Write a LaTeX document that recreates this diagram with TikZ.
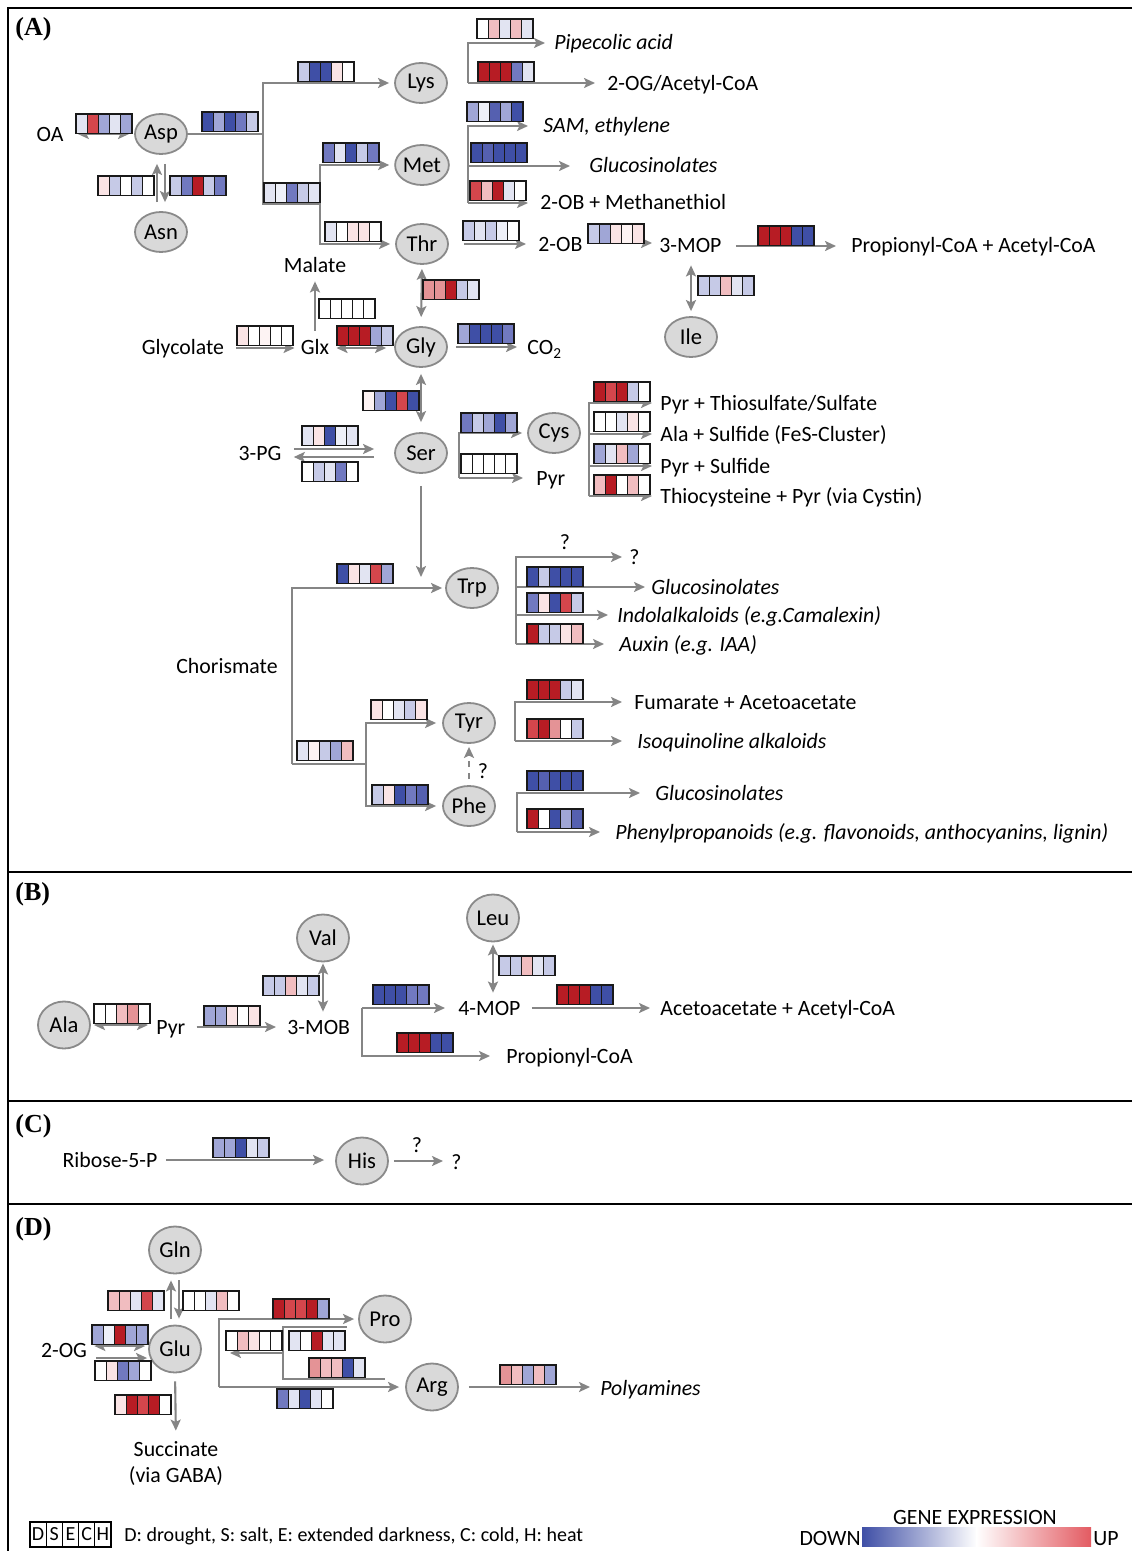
\documentclass[tikz,border=0pt]{standalone}
\usepackage{fontspec}
\setmainfont{Carlito}
\newfontfamily\tnrfont{Liberation Serif}
\usetikzlibrary{arrows.meta,shapes.geometric}
\definecolor{cb0}{HTML}{EEF0F8}
\definecolor{cb1}{HTML}{E2E4F2}
\definecolor{cb2}{HTML}{C6CAE7}
\definecolor{cb3}{HTML}{A0A6D6}
\definecolor{cb4}{HTML}{7179C0}
\definecolor{cb45}{HTML}{5560B0}
\definecolor{cb5}{HTML}{3F4FA6}
\definecolor{cr0}{HTML}{FDF3F3}
\definecolor{cr1}{HTML}{FAE4E5}
\definecolor{cr2}{HTML}{F1BDC0}
\definecolor{cr3}{HTML}{E49396}
\definecolor{cr4}{HTML}{D4464C}
\definecolor{cr5}{HTML}{B71C24}
\definecolor{cw}{HTML}{FFFFFF}
\definecolor{lgray}{HTML}{858585}
\definecolor{nfill}{HTML}{D9D9D9}
\definecolor{nline}{HTML}{8A8A8A}
\definecolor{gradred}{HTML}{E35B62}
\newcommand{\dfont}{\fontsize{10.9}{13}\selectfont}
\newcommand{\nfont}{\fontsize{11.3}{13}\selectfont}
\newcommand{\lfont}{\fontsize{10}{12}\selectfont}
\tikzset{
  conn/.style={draw=lgray, line width=1.05pt},
  arr/.style={conn, -{Stealth[length=5.5pt,width=5pt,inset=1.2pt]}},
  darr/.style={conn, {Stealth[length=5.5pt,width=5pt,inset=1.2pt]}-{Stealth[length=5.5pt,width=5pt,inset=1.2pt]}},
  aa/.style={ellipse, fill=nfill, draw=nline, line width=0.9pt, minimum width=26pt, minimum height=20pt, inner sep=0pt, font=\nfont},
  aac/.style={aa, minimum height=23.5pt},
  lbl/.style={inner sep=0pt, font=\dfont, text height=7.5pt, text depth=0.5pt},
  itl/.style={lbl, font=\dfont\itshape},
  hmb/.style={draw=black!90, line width=0.6pt},
  frame/.style={draw=black, line width=1pt},
  plabel/.style={anchor=west, inner sep=0pt, font={\tnrfont\bfseries\fontsize{13}{15}\selectfont}},
  lgbox/.style={draw=black, line width=0.6pt, minimum width=8.1pt, minimum height=12.5pt, inner sep=0pt, font=\lfont},
}
\newcommand{\hmap}[7]{%
  \begin{scope}[shift={(#1,#2)}]
    \fill[#3] (0,0) rectangle (11.2,19.5);
    \fill[#4] (11.2,0) rectangle (22.4,19.5);
    \fill[#5] (22.4,0) rectangle (33.6,19.5);
    \fill[#6] (33.6,0) rectangle (44.8,19.5);
    \fill[#7] (44.8,0) rectangle (56,19.5);
    \draw[hmb] (0,0) rectangle (56,19.5);
    \foreach \xx in {11.2,22.4,33.6,44.8} \draw[hmb] (\xx,0) -- (\xx,19.5);
  \end{scope}}
\begin{document}
\begin{tikzpicture}[x=0.5pt,y=-0.5pt]
\useasboundingbox (0,0) rectangle (1132,1551);
\fill[white] (0,0) rectangle (1132,1551);
% frames
\draw[frame] (1132,8) -- (8,8) -- (8,1551);
\draw[frame] (8,872) -- (1132,872);
\draw[frame] (8,1101) -- (1132,1101);
\draw[frame] (8,1204) -- (1132,1204);
\node[plabel] (pA) at (15,29) {(A)};
\node[plabel] (pB) at (15,894) {(B)};
\node[plabel] (pC) at (15,1126) {(C)};
\node[plabel] (pD) at (15,1229) {(D)};

% ===== Panel A nodes =====
\node[aa] (asp) at (161,134) {Asp};
\node[aa] (asn) at (161,232) {Asn};
\node[aa] (lys) at (421,83) {Lys};
\node[aa] (met) at (422,165) {Met};
\node[aa] (thr) at (422,244) {Thr};
\node[aa] (gly) at (421,347) {Gly};
\node[aa] (ser) at (421,453) {Ser};
\node[aa] (cys) at (554,433) {Cys};
\node[aa] (ile) at (691,337) {Ile};
\node[aa] (trp) at (472,588) {Trp};
\node[aa] (tyr) at (469,723) {Tyr};
\node[aa] (phe) at (469,806) {Phe};

\node[lbl] (oa) at (50,135) {OA};
\node[lbl] (malate) at (315,266) {Malate};
\node[lbl] (glycolate) at (183,348) {Glycolate};
\node[lbl] (glx) at (315,348) {Glx};
\node[lbl, anchor=west] (co2) at (527,348) {CO\textsubscript{2}};
\node[lbl] (pg) at (260,453) {3-PG};
\node[lbl, anchor=west] (pyra) at (536,478) {Pyr};
\node[itl, anchor=west] (pip) at (554,43) {Pipecolic acid};
\node[lbl, anchor=west] (og) at (607,84) {2-OG/Acetyl-CoA};
\node[itl, anchor=west] (sam) at (543,126) {SAM, ethylene};
\node[itl, anchor=west] (gls1) at (589,166) {Glucosinolates};
\node[lbl, anchor=west] (obm) at (540,203) {2-OB + Methanethiol};
\node[lbl, anchor=west] (ob) at (538,245) {2-OB};
\node[lbl, anchor=west] (mop) at (659,246) {3-MOP};
\node[lbl, anchor=west] (pa) at (851,246) {Propionyl-CoA + Acetyl-CoA};
\node[lbl, anchor=west] (cy1) at (660,403) {Pyr + Thiosulfate/Sulfate};
\node[lbl, anchor=west] (cy2) at (660,434) {Ala + Sulfide (FeS-Cluster)};
\node[lbl, anchor=west] (cy3) at (660,466) {Pyr + Sulfide};
\node[lbl, anchor=west] (cy4) at (660,496) {Thiocysteine + Pyr (via Cystin)};
\node[lbl] (chor) at (227,666) {Chorismate};
\node[lbl] (qa) at (565,542) {?};
\node[lbl, anchor=west] (qb) at (629,557) {?};
\node[itl, anchor=west] (gls2) at (651,587) {Glucosinolates};
\node[itl, anchor=west] (indol) at (617,615) {Indolalkaloids (e.g.Camalexin)};
\node[itl, anchor=west] (aux) at (619,644) {Auxin (e.g. IAA)};
\node[lbl, anchor=west] (fum) at (634,702) {Fumarate + Acetoacetate};
\node[itl, anchor=west] (isoq) at (637,741) {Isoquinoline alkaloids};
\node[itl, anchor=west] (gls3) at (655,793) {Glucosinolates};
\node[itl, anchor=west] (phen) at (615,832) {Phenylpropanoids (e.g. flavonoids, anthocyanins, lignin)};
\node[lbl] (qc) at (483,771) {?};

% ===== Panel A connectors =====
\draw[darr, shorten <=7pt, shorten >=2.5pt] ([yshift=0.5pt]oa.east) -- ([yshift=0.5pt]oa.east -| asp.west);
\coordinate (aspb) at (263,134);
\coordinate (mtb) at (320,204);
\draw[conn] (asp.east) -- (aspb) -- (263,204) -- (mtb);
\draw[arr, shorten >=2.5pt] (aspb) |- (lys);
\draw[arr, shorten >=2.5pt] (mtb) |- (met);
\draw[arr, shorten >=2.5pt] (mtb) |- (thr);
\draw[arr, shorten <=4.5pt, shorten >=4.5pt] ([xshift=-2pt]asn.north) -- ([xshift=-2pt]asp.south);
\draw[arr, shorten <=4.5pt, shorten >=4.5pt] ([xshift=2pt]asp.south) -- ([xshift=2pt]asn.north);

\coordinate (lysb) at (468,83);
\draw[arr, shorten >=4.5pt] (lysb) |- (pip.west);
\draw[arr, shorten >=6pt] (lysb) -- (lysb -| og.west);
\coordinate (metb) at (468,203);
\draw[arr, shorten >=7.5pt] (metb) |- (sam.west);
\draw[arr, shorten >=9.5pt] (metb) |- (gls1.west);
\draw[arr, shorten >=6pt] (metb) -- (metb -| obm.west);

\draw[arr, shorten <=7.5pt, shorten >=6pt] (thr.east) -- (thr.east -| ob.west);
\draw[arr, shorten <=4pt, shorten >=3.5pt] ([yshift=1pt]ob.east) -- ([yshift=1pt]ob.east -| mop.west);
\draw[arr, shorten <=7pt, shorten >=7.5pt] (mop.east) -- (mop.east -| pa.west);
\draw[darr, shorten <=5.5pt, shorten >=2.5pt] (ile.north |- mop.south) -- (ile.north);

\draw[darr, shorten <=2pt, shorten >=4.5pt] (thr.south) -- (gly.north);
\draw[arr, shorten <=6pt, shorten >=3pt] (glycolate.east) -- (glycolate.east -| glx.west);
\draw[arr, shorten <=4.5pt, shorten >=3.5pt] (glx.north) -- (malate.south);
\draw[darr, shorten <=3.5pt, shorten >=4pt] (glx.east) -- (glx.east -| gly.west);
\draw[arr, shorten <=4pt, shorten >=5pt] (gly.east) -- (gly.east -| co2.west);
\draw[darr, shorten <=3pt, shorten >=5pt] (gly.south) -- (ser.north);
\draw[arr, shorten <=6pt, shorten >=10pt] ([yshift=2pt]pg.east) -- ([yshift=2pt]pg.east -| ser.west);
\draw[arr, shorten <=10pt, shorten >=6pt] ([yshift=-2pt]pg.east -| ser.west) -- ([yshift=-2pt]pg.east);

\coordinate (serb) at (459,478);
\draw[arr, shorten >=2.5pt] (serb) |- (cys);
\draw[arr, shorten >=6.5pt] (serb) -- (serb -| pyra.west);
\coordinate (cysb) at (589,496);
\draw[arr, shorten >=4pt] (cysb) |- (cy1.west);
\draw[arr, shorten >=4pt] (cysb) |- (cy2.west);
\draw[arr, shorten >=4pt] (cysb) |- (cy3.west);
\draw[arr, shorten >=4pt] (cysb) -- (cysb -| cy4.west);

\coordinate (trpin) at (421,577);
\draw[arr, shorten <=6pt] (ser.south) -- (trpin);
\coordinate (chb) at (292,764);
\coordinate (tyb) at (366,764);
\draw[arr, shorten >=1.5pt] (chb) |- (trp);
\draw[conn] (chb) -- (tyb);
\draw[arr, shorten >=3pt] (tyb) |- (tyr);
\draw[arr, shorten >=3pt] (tyb) |- (phe);
\draw[arr, dashed, shorten <=3pt, shorten >=1.5pt] (phe.north) -- (tyr.south);

\coordinate (trb) at (516,644);
\draw[arr, shorten >=3.5pt] (trb) |- (qb.west);
\draw[arr, shorten >=3pt] (trb) |- (gls2.west);
\draw[arr, shorten >=4.5pt] (trb) |- (indol.west);
\draw[arr, shorten >=7.5pt] (trb) -- (trb -| aux.west);
\coordinate (tyrb) at (515,741);
\draw[arr, shorten >=6pt] (tyrb) |- (fum.west);
\draw[arr, shorten >=7.5pt] (tyrb) -- (tyrb -| isoq.west);
\coordinate (pheb) at (517,832);
\draw[arr, shorten >=7.5pt] (pheb) |- (gls3.west);
\draw[arr, shorten >=7.5pt] (pheb) -- (pheb -| phen.west);

% ===== Panel A heatmaps =====
\hmap{76}{114}{cb1}{cr4}{cb3}{cb1}{cb3}
\hmap{202}{112}{cb5}{cb3}{cb5}{cb4}{cb2}
\hmap{298}{62}{cb2}{cb5}{cb5}{cr1}{cw}
\hmap{264}{183}{cb1}{cb0}{cb4}{cb2}{cb1}
\hmap{323}{143}{cb4}{cb1}{cb5}{cb2}{cb4}
\hmap{325}{222}{cb1}{cw}{cr1}{cr1}{cw}
\hmap{98}{176}{cr1}{cb2}{cw}{cb2}{cw}
\hmap{170}{176}{cb2}{cb4}{cr5}{cb2}{cb4}
\hmap{477}{19}{cw}{cr2}{cb1}{cr2}{cb1}
\hmap{478}{62}{cr5}{cr5}{cr5}{cb4}{cb1}
\hmap{467}{102}{cb3}{cb0}{cb45}{cb3}{cb5}
\hmap{471}{143}{cb5}{cb45}{cb5}{cb5}{cb5}
\hmap{470}{181}{cr4}{cr2}{cr5}{cb1}{cw}
\hmap{463}{221}{cb2}{cb1}{cb2}{cb0}{cw}
\hmap{588}{224}{cb2}{cb3}{cr1}{cr0}{cr1}
\hmap{758}{226}{cr5}{cr5}{cr5}{cb5}{cb5}
\hmap{698}{276}{cb2}{cb2}{cr2}{cb1}{cb2}
\hmap{423}{280}{cr3}{cr3}{cr5}{cb2}{cb1}
\hmap{237}{326}{cr1}{cw}{cr0}{cw}{cw}
\hmap{319}{299}{cw}{cw}{cw}{cw}{cw}
\hmap{337}{326}{cr5}{cr5}{cr5}{cb3}{cb2}
\hmap{458}{324}{cb3}{cb5}{cb5}{cb5}{cb4}
\hmap{363}{391}{cr0}{cb3}{cb5}{cr4}{cb5}
\hmap{302}{426}{cb1}{cr1}{cb5}{cb0}{cb1}
\hmap{302}{462}{cw}{cb2}{cb1}{cb4}{cw}
\hmap{461}{413}{cb4}{cb2}{cb3}{cb5}{cb3}
\hmap{461}{454}{cw}{cw}{cw}{cw}{cw}
\hmap{594}{382}{cr5}{cr4}{cr5}{cb2}{cw}
\hmap{594}{412}{cw}{cw}{cb1}{cr1}{cw}
\hmap{594}{444}{cb3}{cb1}{cr2}{cb3}{cw}
\hmap{594}{475}{cr2}{cr5}{cw}{cr2}{cw}
\hmap{337}{564}{cb5}{cr1}{cb1}{cr4}{cb3}
\hmap{297}{741}{cb1}{cr0}{cb2}{cb3}{cr2}
\hmap{371}{700}{cr1}{cw}{cb1}{cb2}{cr1}
\hmap{372}{785}{cb2}{cr1}{cb5}{cb4}{cb45}
\hmap{527}{567}{cb5}{cb2}{cb5}{cb5}{cb5}
\hmap{527}{593}{cb4}{cr1}{cb5}{cr4}{cb2}
\hmap{527}{624}{cr5}{cb2}{cb2}{cr1}{cr2}
\hmap{527}{680}{cr5}{cr5}{cr5}{cb2}{cb1}
\hmap{527}{719}{cr4}{cr5}{cr3}{cw}{cb2}
\hmap{527}{771}{cb5}{cb45}{cb5}{cb5}{cb5}
\hmap{527}{809}{cr5}{cw}{cb5}{cb3}{cb45}

% ===== Panel B =====
\node[aac] (ala) at (64,1025) {Ala};
\node[aac] (val) at (323,938) {Val};
\node[aac] (leu) at (493,918) {Leu};
\node[lbl, anchor=west] (pyrb) at (156,1027) {Pyr};
\node[lbl, anchor=west] (mob) at (287,1027) {3-MOB};
\node[lbl, anchor=west] (mop4) at (458,1008) {4-MOP};
\node[lbl, anchor=west] (pcoa) at (506,1056) {Propionyl-CoA};
\node[lbl, anchor=west] (aca) at (660,1008) {Acetoacetate + Acetyl-CoA};
\draw[darr, shorten <=1.5pt, shorten >=4pt] (ala.east) -- (ala.east -| pyrb.west);
\draw[arr, shorten <=5.5pt, shorten >=5.5pt] (pyrb.east) -- (pyrb.east -| mob.west);
\draw[darr, shorten <=3.5pt, shorten >=0.5pt] (val.south |- mob.north) -- (val.south);
\coordinate (mobb) at (362,1008);
\draw[arr, shorten >=6.5pt] (mobb) -- (mobb -| mop4.west);
\draw[arr, shorten >=8pt] (mobb) |- (pcoa.west);
\draw[darr, shorten <=3.5pt, shorten >=1pt] (leu.south |- mop4.north) -- (leu.south);
\draw[arr, shorten <=5.5pt, shorten >=5pt] (mop4.east) -- (mop4.east -| aca.west);
\hmap{94}{1004}{cw}{cw}{cr2}{cr3}{cw}
\hmap{204}{1006}{cb3}{cb3}{cr1}{cw}{cr1}
\hmap{263}{976}{cb2}{cb2}{cr2}{cb1}{cb2}
\hmap{373}{985}{cb5}{cb5}{cb5}{cb4}{cb4}
\hmap{397}{1033}{cr5}{cr5}{cr5}{cb5}{cb5}
\hmap{499}{956}{cb2}{cb2}{cr2}{cb1}{cb2}
\hmap{557}{985}{cr5}{cr5}{cr5}{cb5}{cb5}

% ===== Panel C =====
\node[lbl] (rib) at (110,1160) {Ribose-5-P};
\node[aac] (his) at (362,1161) {His};
\node[lbl] (qd) at (417,1145) {?};
\node[lbl, anchor=west] (qe) at (451,1162) {?};
\draw[arr, shorten <=4pt, shorten >=5.5pt] (rib.east) -- (rib.east -| his.west);
\draw[arr, shorten <=2.5pt, shorten >=4pt] (his.east) -- (his.east -| qe.west);
\hmap{213}{1138}{cb3}{cb3}{cb5}{cb1}{cb2}

% ===== Panel D =====
\node[aac] (gln) at (175,1250) {Gln};
\node[aac] (glu) at (175,1349) {Glu};
\node[aac] (pro) at (385,1319) {Pro};
\node[aac] (arg) at (432,1387) {Arg};
\node[lbl] (og2) at (64,1350) {2-OG};
\node[lbl] (succ) at (176,1449) {Succinate};
\node[lbl] (gaba) at (176,1475) {(via GABA)};
\node[itl, anchor=west] (poly) at (600,1388) {Polyamines};
\draw[arr, shorten <=3pt, shorten >=3pt] ([xshift=-2pt]glu.north) -- ([xshift=-2pt]gln.south);
\draw[arr, shorten <=3pt, shorten >=3pt] ([xshift=2pt]gln.south) -- ([xshift=2pt]glu.north);
\draw[darr, shorten <=3.5pt, shorten >=1.5pt] ([yshift=2pt]og2.east) -- ([yshift=2pt]og2.east -| glu.west);
\draw[arr, shorten <=4.5pt, shorten >=0.5pt] ([yshift=-4pt]og2.east) -- ([yshift=-4pt]og2.east -| glu.west);
\draw[arr, shorten <=4pt, shorten >=5pt] (glu.south) -- (succ.north);
\coordinate (gb) at (219,1387);
\draw[arr, shorten >=2pt] (gb) |- (pro);
\draw[arr, shorten >=3pt] (gb) -- (arg);
\coordinate (ib1) at (347,1327);
\coordinate (ib2) at (283,1379);
\coordinate (ib3) at (385,1379);
\coordinate (ib4) at (283,1353);
\coordinate (ib5) at (230,1353);
\draw[conn] (ib1) -| (ib2) -- (ib3);
\draw[arr] (ib4) -- (ib5);
\draw[arr, shorten <=5pt, shorten >=5pt] (arg.east) -- (arg.east -| poly.west);
\hmap{108}{1291}{cr2}{cr2}{cb1}{cr4}{cb1}
\hmap{183}{1291}{cw}{cw}{cb1}{cr2}{cw}
\hmap{92}{1325}{cb3}{cb0}{cr5}{cb3}{cb3}
\hmap{95}{1361}{cw}{cr1}{cb4}{cb3}{cw}
\hmap{115}{1395}{cr1}{cr5}{cr4}{cr5}{cw}
\hmap{273}{1299}{cr5}{cr4}{cr4}{cr5}{cb3}
\hmap{277}{1389}{cb4}{cb1}{cb5}{cb1}{cw}
\hmap{226}{1331}{cw}{cr2}{cr1}{cw}{cw}
\hmap{289}{1331}{cb1}{cw}{cr5}{cb1}{cb1}
\hmap{309}{1358}{cr3}{cr2}{cr2}{cb5}{cb1}
\hmap{500}{1365}{cr3}{cr2}{cb3}{cr2}{cb3}

% ===== Legend =====
\foreach \l [count=\i from 0] in {D,S,E,C,H}
  \node[lgbox] (lg\l) at ({38.1+\i*16.2},1534.5) {\l};
\node[lbl, anchor=west, font=\lfont] (lgtxt) at (124,1534) {D: drought, S: salt, E: extended darkness, C: cold, H: heat};
\node[lbl] (gexp) at (975,1517) {GENE EXPRESSION};
\node[lbl, anchor=east] (down) at (861,1538) {DOWN};
\node[lbl, anchor=west] (up) at (1093,1538) {UP};
\shade[left color=cb5, right color=white] (862,1527) rectangle (977,1546);
\shade[left color=white, right color=gradred] (976,1527) rectangle (1091,1546);
\end{tikzpicture}
\end{document}
